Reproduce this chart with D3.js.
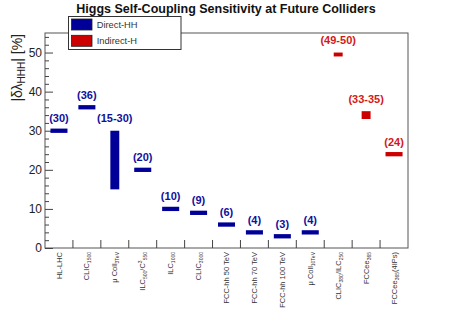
<!DOCTYPE html>
<html><head><meta charset="utf-8">
<script src="https://cdn.jsdelivr.net/npm/d3@7"></script>
<style>body{margin:0;background:#fff}svg{display:block}text{font-family:"Liberation Sans",Arial,sans-serif}</style>
</head><body>
<svg id="c" width="453" height="331"></svg>
<script>
// ---- data ----
const categories = ["HL-LHC","CLIC1500","muColl3","ILC500C3","ILC1000","CLIC3000","FCChh50","FCChh70","FCChh100","muColl10","CLIC380ILC250","FCCee365","FCCee365_4IPs"];
// label parts: [text, kind] kind: n normal, s sub, p sup
const catLabels = [
  [["HL-LHC","n"]],
  [["CLIC","n"],["1500","s"]],
  [["\u03bc Coll","n"],["3TeV","s"]],
  [["ILC","n"],["500","s"],["/C","n"],["3","p"],["550","s"]],
  [["ILC","n"],["1000","s"]],
  [["CLIC","n"],["3000","s"]],
  [["FCC-hh 50 TeV","n"]],
  [["FCC-hh 70 TeV","n"]],
  [["FCC-hh 100 TeV","n"]],
  [["\u03bc Coll","n"],["10TeV","s"]],
  [["CLIC","n"],["380","s"],["/ILC","n"],["250","s"]],
  [["FCCee","n"],["365","s"]],
  [["FCCee","n"],["365","s"],["(4IPs)","n"]]
];
const lowValues  = [30,36,15,20,10,9,6,4,3,4,49,33,24];
const highValues = [30,36,30,20,10,9,6,4,3,4,50,35,24];
const valueLabels = ["(30)","(36)","(15-30)","(20)","(10)","(9)","(6)","(4)","(3)","(4)","(49-50)","(33-35)","(24)"];
const types = ["Direct-HH","Direct-HH","Direct-HH","Direct-HH","Direct-HH","Direct-HH","Direct-HH","Direct-HH","Direct-HH","Direct-HH","Indirect-H","Indirect-H","Indirect-H"];
const legendNames = ["Direct-HH","Indirect-H"];
const yTicks = [0,10,20,30,40,50];
const title = "Higgs Self-Coupling Sensitivity at Future Colliders";

// ---- layout ----
const L = 45, R = 408, T = 33, B = 248;
const svg = d3.select("#c");
const color = d3.scaleOrdinal().domain(legendNames).range(["#000099","#cc0000"]);
const labelColor = d3.scaleOrdinal().domain(legendNames).range(["#10109c","#d41818"]);
const x = d3.scaleBand().domain(categories).range([L, R]).padding(0);
const y = d3.scaleLinear().domain([0, 55]).range([B, T]);

// frame
svg.append("rect").attr("x", L).attr("y", T).attr("width", R - L).attr("height", B - T)
  .attr("fill", "none").attr("stroke", "#555").attr("stroke-width", 1);

// y axis ticks (inward)
const yAxis = d3.axisRight(y).tickValues(d3.range(0, 55, 2)).tickSize(0).tickFormat("");
const yg = svg.append("g").attr("transform", `translate(${L},0)`).call(yAxis);
yg.select(".domain").remove();
yg.selectAll(".tick line").attr("x2", d => d % 10 === 0 ? 8 : 4).attr("stroke", "#444");
svg.append("g").selectAll("text").data(yTicks).join("text")
  .attr("x", 42).attr("y", d => y(d)).attr("dy", "0.36em").attr("text-anchor", "end")
  .attr("font-size", 12).attr("fill", "#222").text(d => d);

// x axis ticks at band boundaries (upward)
const bounds = categories.slice(1).map(c => x(c));
svg.append("g").selectAll("line").data(bounds).join("line")
  .attr("x1", d => d).attr("x2", d => d).attr("y1", B).attr("y2", B - 8)
  .attr("stroke", "#444");

// x labels
const xl = svg.append("g");
catLabels.forEach((parts, i) => {
  const cx = x(categories[i]) + x.bandwidth() / 2 + 2.6;
  const t = xl.append("text").attr("transform", `translate(${cx},252) rotate(-90)`)
    .attr("text-anchor", "end").attr("font-size", 7.5).attr("fill", "#333");
  parts.forEach(([s, k]) => {
    const ts = t.append("tspan").text(s);
    if (k === "s") ts.attr("font-size", 5).attr("dy", 2).attr("dy", null).attr("baseline-shift", -2);
    if (k === "p") ts.attr("font-size", 5).attr("baseline-shift", 3);
  });
});

// bars
const idx = d3.range(categories.length);
svg.append("g").selectAll("rect").data(idx).join("rect")
  .attr("x", i => {
    const w = x.bandwidth() * (lowValues[i] === highValues[i] ? 0.61 : 0.32);
    return x(categories[i]) + (x.bandwidth() - w) / 2;
  })
  .attr("width", i => x.bandwidth() * (lowValues[i] === highValues[i] ? 0.61 : 0.32))
  .attr("y", i => lowValues[i] === highValues[i] ? y(highValues[i] + 0.55) : y(highValues[i]))
  .attr("height", i => lowValues[i] === highValues[i] ? y(lowValues[i] - 0.55) - y(highValues[i] + 0.55) : y(lowValues[i]) - y(highValues[i]))
  .attr("fill", i => color(types[i]));

// value labels
svg.append("g").selectAll("text").data(idx).join("text")
  .attr("x", i => x(categories[i]) + x.bandwidth() / 2)
  .attr("y", i => y(highValues[i]) - 8.5)
  .attr("text-anchor", "middle").attr("font-size", 11).attr("font-weight", "bold")
  .attr("fill", i => labelColor(types[i])).text(i => valueLabels[i]);

// y axis title
const yt = svg.append("text").attr("transform", `translate(22,${T + 1}) rotate(-90)`)
  .attr("text-anchor", "end").attr("font-size", 14).attr("fill", "#222");
yt.append("tspan").text("|\u03b4\u03bb");
yt.append("tspan").text("HHH").attr("font-size", 10).attr("baseline-shift", -3);
yt.append("tspan").text("| [%]");

// title
svg.append("text").attr("x", 226).attr("y", 12.5).attr("text-anchor", "middle")
  .attr("font-size", 12.5).attr("font-weight", "bold").attr("fill", "#111").text(title);

// legend
const lg = svg.append("g");
lg.append("rect").attr("x", 68.5).attr("y", 16.5).attr("width", 112.5).attr("height", 33)
  .attr("fill", "#fff").attr("stroke", "#333");
legendNames.forEach((n, i) => {
  lg.append("rect").attr("x", 71.5).attr("y", 19 + i * 16.3).attr("width", 20.5).attr("height", 11)
    .attr("fill", color(n)).attr("stroke", "#222").attr("stroke-width", 0.8);
  lg.append("text").attr("x", 96.7).attr("y", 24.8 + i * 16.3).attr("dy", "0.35em")
    .attr("font-size", 9.3).attr("fill", "#333").text(n);
});
</script>
</body></html>
